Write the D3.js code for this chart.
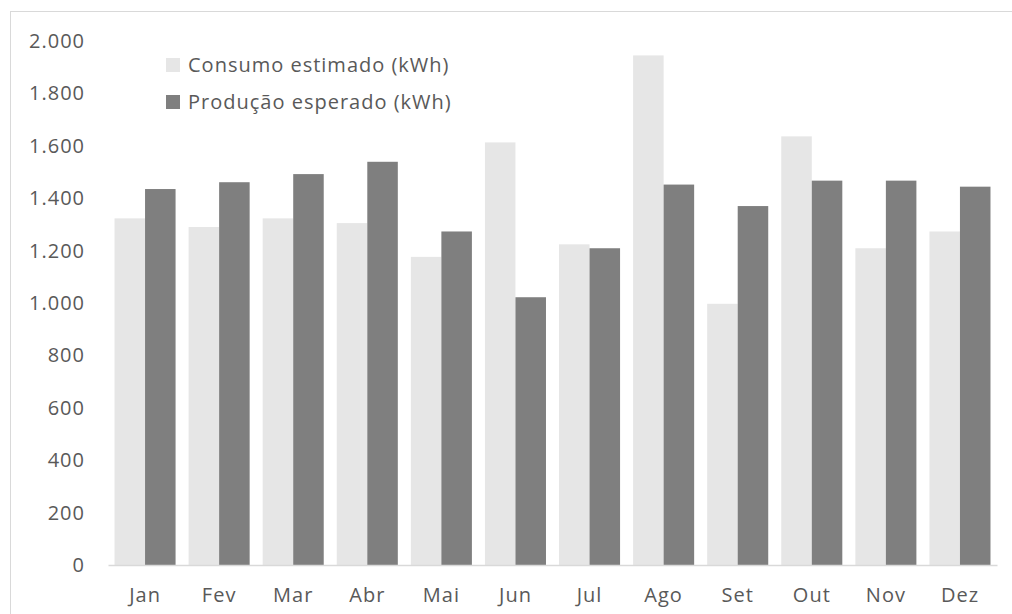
<!DOCTYPE html>
<html>
<head>
<meta charset="utf-8">
<script src="https://cdn.jsdelivr.net/npm/d3@7"></script>
<style>
  body { margin: 0; background: #fff; }
  svg { display: block; }
  text { font-family: "Open Sans", "Noto Sans", sans-serif; fill: #595959; letter-spacing: 1px; }
</style>
</head>
<body>
<svg width="1012" height="614"></svg>
<script>
const months = ['Jan', 'Fev', 'Mar', 'Abr', 'Mai', 'Jun', 'Jul', 'Ago', 'Set', 'Out', 'Nov', 'Dez'];
const consumo = [1323, 1290, 1323, 1305, 1176, 1613, 1224, 1945, 997, 1636, 1209, 1273];
const producao = [1435, 1461, 1492, 1539, 1273, 1022, 1209, 1452, 1370, 1467, 1467, 1444];
const seriesNames = ['Consumo estimado (kWh)', 'Produção esperado (kWh)'];
const yTicks = [0, 200, 400, 600, 800, 1000, 1200, 1400, 1600, 1800, 2000];

const colors = ['#e6e6e6', '#7f7f7f'];
const fontSize = '20px';
const svg = d3.select('svg');

// moldura (só o topo e a esquerda aparecem)
svg.append('rect')
  .attr('x', 10.5).attr('y', 11.5)
  .attr('width', 1100).attr('height', 700)
  .attr('fill', 'none')
  .attr('stroke', '#d9d9d9');

const plotLeft = 108, plotRight = 997, plotTop = 41, plotBottom = 565;

const x0 = d3.scaleBand()
  .domain(months)
  .range([plotLeft, plotRight])
  .paddingInner(0.176)
  .paddingOuter(0.088);
const x1 = d3.scaleBand()
  .domain([0, 1])
  .range([0, x0.bandwidth()]);
const y = d3.scaleLinear().domain([0, 2000]).range([plotBottom, plotTop]);

const fmt = d3.formatLocale({ decimal: ',', thousands: '.', grouping: [3], currency: ['', ''] }).format(',d');

// eixo y (só rótulos)
const axisY = svg.append('g')
  .attr('transform', 'translate(' + 85 + ',0)')
  .call(d3.axisLeft(y).tickValues(yTicks).tickFormat(fmt).tickSize(0).tickPadding(0));
axisY.select('.domain').remove();
axisY.selectAll('text')
  .attr('fill', '#595959')
  .style('font-family', '"Open Sans", "Noto Sans", sans-serif')
  .style('font-size', fontSize);

// barras
const rows = months.map((m, i) => ({ month: m, values: [consumo[i], producao[i]] }));
const groups = svg.append('g').selectAll('g')
  .data(rows)
  .join('g')
  .attr('transform', d => 'translate(' + x0(d.month) + ',0)');
groups.selectAll('rect')
  .data(d => d.values.map((v, k) => ({ k: k, v: v })))
  .join('rect')
  .attr('x', d => x1(d.k))
  .attr('width', x1.bandwidth())
  .attr('y', d => y(d.v))
  .attr('height', d => y(0) - y(d.v))
  .attr('fill', d => colors[d.k]);

// eixo x
const axisX = svg.append('g')
  .attr('transform', 'translate(0,' + plotBottom + ')')
  .call(d3.axisBottom(x0).tickSize(0).tickPadding(23).tickSizeOuter(0));
axisX.select('.domain').attr('stroke', '#d9d9d9').attr('stroke-width', 1.5);
axisX.selectAll('text')
  .attr('fill', '#595959')
  .style('font-family', '"Open Sans", "Noto Sans", sans-serif')
  .style('font-size', fontSize);

// legenda
const legend = svg.append('g').attr('transform', 'translate(166,58)');
seriesNames.forEach((name, i) => {
  const g = legend.append('g').attr('transform', 'translate(0,' + (i * 37) + ')');
  g.append('rect').attr('width', 14).attr('height', 14).attr('fill', colors[i]);
  g.append('text')
    .attr('x', 22).attr('y', 7)
    .attr('dy', '0.35em')
    .style('font-size', fontSize)
    .text(name);
});
</script>
</body>
</html>
